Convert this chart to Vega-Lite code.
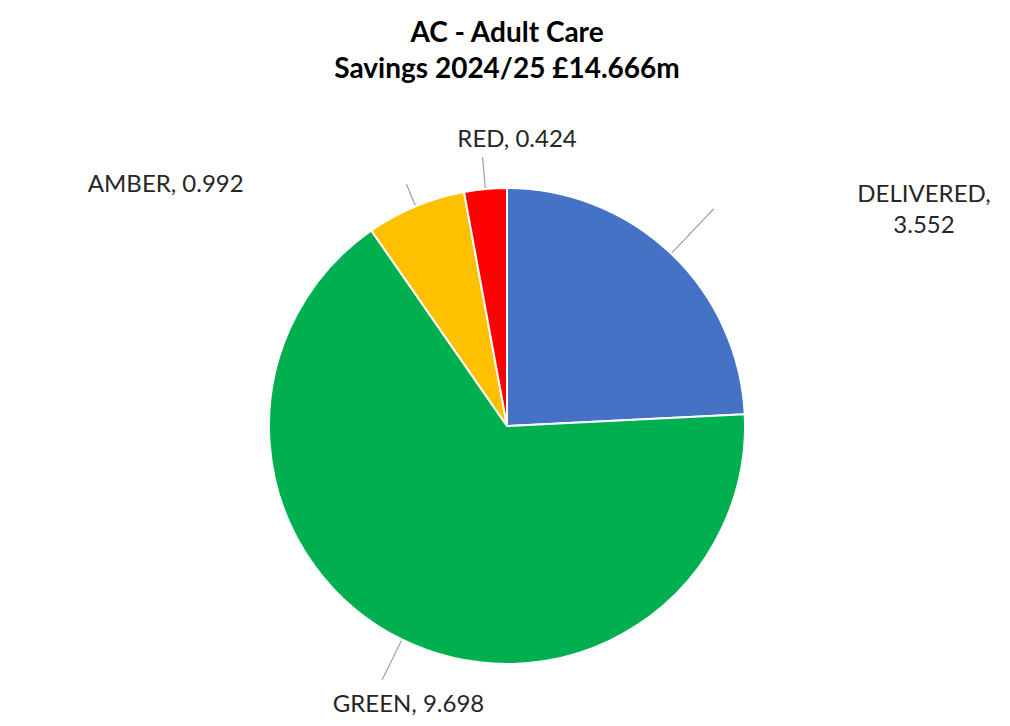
{
  "$schema": "https://vega.github.io/schema/vega-lite/v6.json",
  "width": 1006,
  "height": 596,
  "autosize": {"type": "none"},
  "padding": {"left": 4, "top": 128, "right": 0, "bottom": 2},
  "background": "white",
  "config": {"view": {"stroke": null}},
  "title": {
    "text": ["AC - Adult Care", "Savings 2024/25 £14.666m"],
    "font": "Lato",
    "fontSize": 28,
    "fontWeight": "bold",
    "color": "#000000",
    "lineHeight": 36,
    "anchor": "middle",
    "offset": 12
  },
  "data": {
    "values": [
      {"category": "DELIVERED", "value": 3.552, "seq": 1, "label": "DELIVERED, 3.552"},
      {"category": "GREEN", "value": 9.698, "seq": 2, "label": "GREEN, 9.698"},
      {"category": "AMBER", "value": 0.992, "seq": 3, "label": "AMBER, 0.992"},
      {"category": "RED", "value": 0.424, "seq": 4, "label": "RED, 0.424"}
    ]
  },
  "encoding": {
    "theta": {"field": "value", "type": "quantitative", "stack": true},
    "order": {"field": "seq", "type": "quantitative"}
  },
  "resolve": {"scale": {"theta": "independent"}},
  "layer": [
    {
      "mark": {"type": "arc", "radius": 238, "stroke": "white", "strokeWidth": 2},
      "encoding": {
        "color": {
          "field": "category",
          "type": "nominal",
          "scale": {"domain": ["DELIVERED", "GREEN", "AMBER", "RED"], "range": ["#4472C4", "#00B050", "#FFC000", "#FF0000"]},
          "legend": null
        }
      }
    },
    {
      "mark": {"type": "arc", "radius": 300, "radius2": 239, "padAngle": 3.14, "fill": "transparent", "strokeWidth": 1.3},
      "encoding": {"stroke": {"condition": {"test": "datum.category === 'DELIVERED'", "value": "#a6a6a6"}, "value": "transparent"}}
    },
    {
      "mark": {"type": "arc", "radius": 283, "radius2": 239, "padAngle": 3.14, "fill": "transparent", "strokeWidth": 1.3},
      "encoding": {
        "theta": {"field": "value", "type": "quantitative", "stack": true, "scale": {"range": [2.0869, 4.7264]}},
        "stroke": {"condition": {"test": "datum.category === 'GREEN'", "value": "#a6a6a6"}, "value": "transparent"}
      }
    },
    {
      "mark": {"type": "arc", "radius": 262, "radius2": 239, "padAngle": 3.14, "fill": "transparent", "strokeWidth": 1.3},
      "encoding": {"stroke": {"condition": {"test": "datum.category === 'AMBER'", "value": "#a6a6a6"}, "value": "transparent"}}
    },
    {
      "mark": {"type": "arc", "radius": 270, "radius2": 239, "padAngle": 3.14, "fill": "transparent", "strokeWidth": 1.3},
      "encoding": {"stroke": {"condition": {"test": "datum.category === 'RED'", "value": "#a6a6a6"}, "value": "transparent"}}
    },
    {
      "mark": {"type": "text", "radius": 319, "dx": 197, "font": "Lato", "fontSize": 24, "color": "#262626", "lineBreak": " ", "lineHeight": 31, "align": "center", "baseline": "middle"},
      "encoding": {"text": {"condition": {"test": "datum.category === 'DELIVERED'", "field": "label", "type": "nominal"}, "value": ""}}
    },
    {
      "mark": {"type": "text", "radius": 309, "dx": 38, "dy": 2, "font": "Lato", "fontSize": 24, "color": "#262626", "align": "center", "baseline": "middle"},
      "encoding": {"text": {"condition": {"test": "datum.category === 'GREEN'", "field": "label", "type": "nominal"}, "value": ""}}
    },
    {
      "mark": {"type": "text", "radius": 261, "dx": -241, "font": "Lato", "fontSize": 24, "color": "#262626", "align": "center", "baseline": "middle"},
      "encoding": {"text": {"condition": {"test": "datum.category === 'AMBER'", "field": "label", "type": "nominal"}, "value": ""}}
    },
    {
      "mark": {"type": "text", "radius": 286, "dx": 36, "dy": -1, "font": "Lato", "fontSize": 24, "color": "#262626", "align": "center", "baseline": "middle"},
      "encoding": {"text": {"condition": {"test": "datum.category === 'RED'", "field": "label", "type": "nominal"}, "value": ""}}
    }
  ]
}
